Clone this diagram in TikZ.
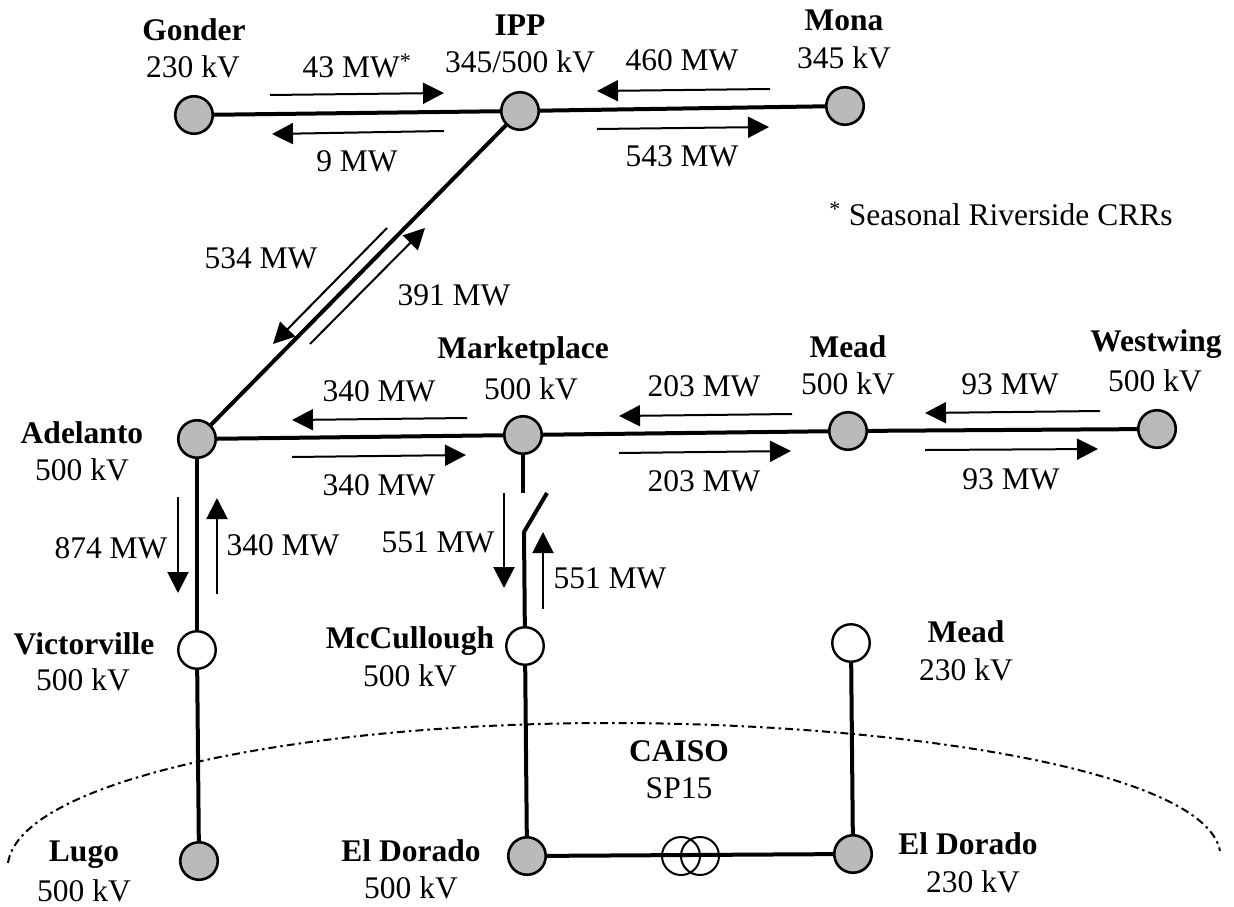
\documentclass[tikz,border=0pt]{standalone}
\usepackage{fontspec}
\setmainfont{Liberation Serif}
\usetikzlibrary{arrows.meta}
\newcommand{\flowarrow}[3]{%
  \coordinate (#1s) at (#2);\coordinate (#1e) at (#3);
  \draw[flow] (#1s) -- (#1e);}
\tikzset{
  x=1pt,y=-1pt,
  live/.style={circle,draw=black,line width=2.6pt,fill=black!27,minimum size=37.5pt,inner sep=0pt},
  open/.style={circle,draw=black,line width=2.4pt,fill=white,minimum size=37.5pt,inner sep=0pt},
  line/.style={line width=4pt,black},
  flow/.style={line width=2pt,-{Triangle[length=21pt,width=21pt]}},
  lab/.style={font=\fontsize{31.5}{35}\selectfont,inner sep=0pt,align=center,anchor=center},
  bus/.style={font=\fontsize{31.5}{35}\selectfont\bfseries,inner sep=0pt,anchor=center},
  boundary/.style={line width=2pt,dash pattern=on 8pt off 4pt on 2.5pt off 4pt},
  coil/.style={circle,draw=black,line width=2pt,minimum size=38pt,inner sep=0pt},
}
\begin{document}
\begin{tikzpicture}
\useasboundingbox (0,0) rectangle (1234,907);
\fill[white] (0,0) rectangle (1234,907);
% boundary
\coordinate (bl) at (8,863);
\coordinate (bt) at (610,723);
\coordinate (br) at (1220,851);
\draw[boundary] (bl) .. controls (20,780) and (300,723) .. (bt) .. controls (900,723) and (1205,770) .. (br);
% nodes
\node[live] (gonder) at (194,115) {};
\node[live] (ipp) at (520,111) {};
\node[live] (mona) at (845,106) {};
\node[live] (adelanto) at (197,439) {};
\node[live] (market) at (523,435) {};
\node[live] (mead5) at (848,431) {};
\node[live] (west) at (1157,429) {};
\node[open] (victor) at (197,650) {};
\node[open] (mccull) at (525,646) {};
\node[open] (mead2) at (851,643) {};
\node[live] (lugo) at (199,861) {};
\node[live] (eld5) at (527,856) {};
\node[live] (eld2) at (853,854) {};
\node[coil] (t1) at (681,856) {};
\node[coil] (t2) at (700,856) {};
% lines
\draw[line] (gonder) -- (ipp);
\draw[line] (ipp) -- (mona);
\draw[line] (ipp) -- (adelanto);
\draw[line] (adelanto) -- (market);
\draw[line] (market) -- (mead5);
\draw[line] (mead5) -- (west);
\draw[line] (adelanto) -- (victor);
\draw[line] (victor) -- (lugo);
\draw[line] (mccull) -- (eld5);
\draw[line] (mead2) -- (eld2);
\draw[line] (eld5) -- (eld2);
\coordinate (swa) at (523,493);
\coordinate (swb) at (524,532);
\coordinate (swc) at (547,493);
\draw[line] (market) -- (swa);
\draw[line] (mccull) -- (swb) -- (swc);
% flows
\flowarrow{f1}{270,95}{444,93}
\flowarrow{f2}{444,131}{272,134}
\flowarrow{f3}{770,89}{597,91}
\flowarrow{f4}{597,129}{769,127}
\flowarrow{f5}{387,228}{273,344}
\flowarrow{f6}{310,344}{425,228}
\flowarrow{f7}{467,418}{292,420}
\flowarrow{f8}{292,457}{466,455}
\flowarrow{f9}{792,414}{619,416}
\flowarrow{f10}{619,453}{791,451}
\flowarrow{f11}{1100,411}{925,413}
\flowarrow{f12}{925,450}{1098,449}
\flowarrow{f13}{178,497}{178,593}
\flowarrow{f14}{217,594}{217,498}
\flowarrow{f15}{504,493}{504,588}
\flowarrow{f16}{543,609}{543,532}
% labels
\node[bus] (lg) at (194,30) {Gonder};
\node[lab] (lg2) at (193,67) {230 kV};
\node[bus] (li) at (520,25) {IPP};
\node[lab] (li2) at (520,62) {345/500 kV};
\node[bus] (lm) at (844,20) {Mona};
\node[lab] (lm2) at (844,58) {345 kV};
\node[lab] (n1) at (357,66) {43 MW\textsuperscript{*}};
\node[lab] (n2) at (357,161) {9 MW};
\node[lab] (n3) at (682,60) {460 MW};
\node[lab] (n4) at (682,156) {543 MW};
\node[lab] (n5) at (1001,214) {\textsuperscript{*} Seasonal Riverside CRRs};
\node[lab] (n6) at (261,258) {534 MW};
\node[lab] (n7) at (454,295) {391 MW};
\node[bus] (lmk) at (523,351) {Marketplace};
\node[lab] (lmk2) at (531,389) {500 kV};
\node[bus] (lme) at (848,347) {Mead};
\node[lab] (lme2) at (848,384) {500 kV};
\node[bus] (lw) at (1156,344) {Westwing};
\node[lab] (lw2) at (1155,381) {500 kV};
\node[lab] (n8) at (379,391) {340 MW};
\node[lab] (n9) at (704,386) {203 MW};
\node[lab] (n10) at (1010,384) {93 MW};
\node[lab] (n11) at (379,485) {340 MW};
\node[lab] (n12) at (704,481) {203 MW};
\node[lab] (n13) at (1011,479) {93 MW};
\node[bus] (la) at (82,433) {Adelanto};
\node[lab] (la2) at (82,470) {500 kV};
\node[lab] (n14) at (111,548) {874 MW};
\node[lab] (n15) at (283,545) {340 MW};
\node[lab] (n16) at (438,542) {551 MW};
\node[lab] (n17) at (610,578) {551 MW};
\node[bus] (lv) at (84,644) {Victorville};
\node[lab] (lv2) at (83,680) {500 kV};
\node[bus] (lmc) at (410,641) {McCullough};
\node[lab] (lmc2) at (410,676) {500 kV};
\node[bus] (lme3) at (966,632) {Mead};
\node[lab] (lme4) at (966,670) {230 kV};
\node[bus] (lc) at (679,751) {CAISO};
\node[lab] (lc2) at (679,788) {SP15};
\node[bus] (ll) at (84,855) {Lugo};
\node[lab] (ll2) at (84,891) {500 kV};
\node[bus] (le) at (411,851) {El Dorado};
\node[lab] (le2) at (411,888) {500 kV};
\node[bus] (le3) at (968,844) {El Dorado};
\node[lab] (le4) at (973,882) {230 kV};
\end{tikzpicture}
\end{document}
